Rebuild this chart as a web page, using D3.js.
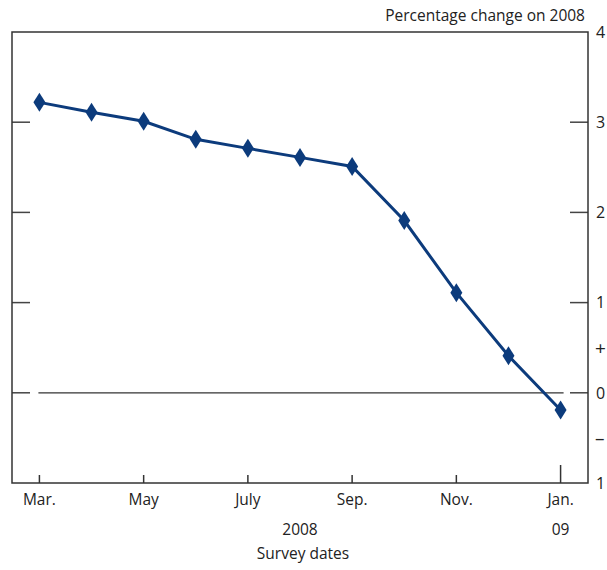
<!DOCTYPE html>
<html>
<head>
<meta charset="utf-8">
<script src="https://cdn.jsdelivr.net/npm/d3@7"></script>
<style>
  body { margin: 0; background: #fff; }
  svg text { font-family: "Open Sans", "Noto Sans", sans-serif; fill: #222; }
</style>
</head>
<body>
<svg id="chart"></svg>
<script>
// Survey dates, Mar. 2008 to Jan. 2009
const months = ['Mar', 'Apr', 'May', 'Jun', 'Jul', 'Aug', 'Sep', 'Oct', 'Nov', 'Dec', 'Jan'];
const values = [3.22, 3.11, 3.01, 2.81, 2.71, 2.61, 2.51, 1.91, 1.11, 0.41, -0.19];
const tickMonths = ['Mar', 'May', 'Jul', 'Sep', 'Nov', 'Jan'];
const tickLabels = ['Mar.', 'May', 'July', 'Sep.', 'Nov.', 'Jan.'];
const yTicks = [3, 2, 1, 0];
const yLabels = [[4, '4'], [3, '3'], [2, '2'], [1, '1'], [0, '0'], [-1, '1']];
const signLabels = [[0.5, '+'], [-0.5, '\u2013']];

const width = 607, height = 570;
const margin = {top: 32, right: 19, bottom: 87, left: 12};
const innerW = width - margin.left - margin.right;
const innerH = height - margin.top - margin.bottom;

const svg = d3.select('#chart').attr('width', width).attr('height', height);
const chart = svg.append('g').attr('transform', `translate(${margin.left},${margin.top})`);

const x = d3.scalePoint().domain(months).range([0, innerW]).padding(0.526);
const y = d3.scaleLinear().domain([-1, 4]).range([innerH, 0]);

const navy = '#0c3b7c';
const tickColor = '#444';

// zero line spans the survey dates only
chart.append('line')
    .attr('x1', x('Mar') - 1).attr('x2', x('Jan') + 3)
    .attr('y1', y(0)).attr('y2', y(0))
    .attr('stroke', '#333').attr('stroke-width', 1.3);

// y ticks on both sides, pointing inward
const tickLen = 18;
chart.selectAll('.ytick-l')
    .data(yTicks)
    .join('line')
    .attr('x1', 0).attr('x2', tickLen)
    .attr('y1', d => y(d)).attr('y2', d => y(d))
    .attr('stroke', tickColor).attr('stroke-width', 1.5);

chart.selectAll('.ytick-r')
    .data(yTicks)
    .join('line')
    .attr('x1', innerW - tickLen).attr('x2', innerW)
    .attr('y1', d => y(d)).attr('y2', d => y(d))
    .attr('stroke', tickColor).attr('stroke-width', 1.5);

// x ticks (Jan. longer to mark the year)
chart.selectAll('.xtick')
    .data(tickMonths)
    .join('line')
    .attr('x1', d => x(d)).attr('x2', d => x(d))
    .attr('y1', innerH)
    .attr('y2', d => d === 'Jan' ? innerH - 18 : innerH - 8)
    .attr('stroke', '#333').attr('stroke-width', 1.5);

// frame
chart.append('rect')
    .attr('width', innerW).attr('height', innerH)
    .attr('fill', 'none').attr('stroke', '#333').attr('stroke-width', 1.5);

// series
const line = d3.line().x((d, i) => x(months[i])).y(d => y(d));
chart.append('path')
    .datum(values)
    .attr('fill', 'none')
    .attr('stroke', navy)
    .attr('stroke-width', 3)
    .attr('d', line);

chart.selectAll('.marker')
    .data(values)
    .join('path')
    .attr('transform', (d, i) => `translate(${x(months[i])},${y(d)})`)
    .attr('d', 'M0,-9.5L6,0L0,9.5L-6,0Z')
    .attr('fill', navy);

// right axis labels
chart.selectAll('.ylabel')
    .data(yLabels)
    .join('text')
    .attr('x', innerW + 8)
    .attr('y', d => y(d[0]))
    .attr('dy', '0.36em')
    .style('font-size', '16px')
    .text(d => d[1]);

chart.selectAll('.sign')
    .data(signLabels)
    .join('text')
    .attr('x', innerW + 7)
    .attr('y', d => y(d[0]))
    .attr('dy', '0.36em')
    .style('font-size', '19px')
    .text(d => d[1]);

// x labels
chart.selectAll('.xlabel')
    .data(tickMonths)
    .join('text')
    .attr('x', d => x(d))
    .attr('y', innerH + 22)
    .attr('text-anchor', 'middle')
    .style('font-size', '15.5px')
    .text((d, i) => tickLabels[i]);

chart.append('text')
    .attr('x', (x('Jul') + x('Sep')) / 2)
    .attr('y', innerH + 52)
    .attr('text-anchor', 'middle')
    .style('font-size', '15.5px')
    .text('2008');

chart.append('text')
    .attr('x', x('Jan'))
    .attr('y', innerH + 52)
    .attr('text-anchor', 'middle')
    .style('font-size', '15.5px')
    .text('09');

chart.append('text')
    .attr('x', (x('Jul') + x('Sep')) / 2 + 3)
    .attr('y', innerH + 76)
    .attr('text-anchor', 'middle')
    .style('font-size', '15.5px')
    .text('Survey dates');

// axis title
svg.append('text')
    .attr('x', margin.left + innerW - 3)
    .attr('y', 21)
    .attr('text-anchor', 'end')
    .style('font-size', '15.5px')
    .text('Percentage change on 2008');
</script>
</body>
</html>
